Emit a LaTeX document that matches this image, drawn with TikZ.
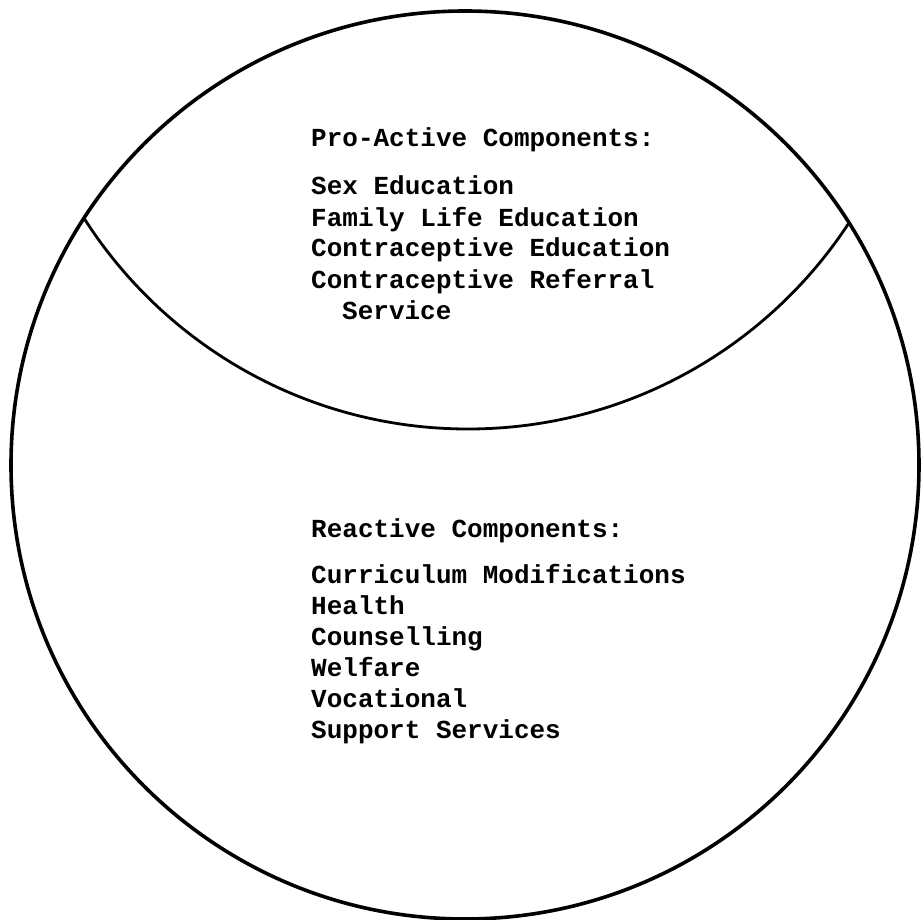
\documentclass[tikz,border=0pt]{standalone}
\usepackage{fontspec}
\setmonofont{Liberation Mono}
\begin{document}
\begin{tikzpicture}[x=1pt,y=-1pt,
  txt/.style={anchor=base west, inner sep=0pt, font=\ttfamily\bfseries\fontsize{26}{31}\selectfont},
  outer/.style={line width=3.6pt},
  inner/.style={line width=2.8pt}]
\useasboundingbox (0,0) rectangle (921,920);
\coordinate (c) at (465,465);
\draw[outer] (c) circle[radius=454pt];
\begin{scope}
  \clip (c) circle[radius=454pt];
  \draw[inner] (468,-26) circle[radius=455pt];
\end{scope}
% Pro-active block
\node[txt] (p0) at (311,147) {Pro-Active Components:};
\node[txt] (p1) at (311,195) {Sex Education};
\node[txt] (p2) at (311,226) {Family Life Education};
\node[txt] (p3) at (311,257) {Contraceptive Education};
\node[txt] (p4) at (311,288) {Contraceptive Referral};
\node[txt] (p5) at (342,319) {Service};
% Reactive block
\node[txt] (r0) at (311,537) {Reactive Components:};
\node[txt] (r1) at (311,583) {Curriculum Modifications};
\node[txt] (r2) at (311,614) {Health};
\node[txt] (r3) at (311,645) {Counselling};
\node[txt] (r4) at (311,676) {Welfare};
\node[txt] (r5) at (311,707) {Vocational};
\node[txt] (r6) at (311,738) {Support Services};
\end{tikzpicture}
\end{document}
